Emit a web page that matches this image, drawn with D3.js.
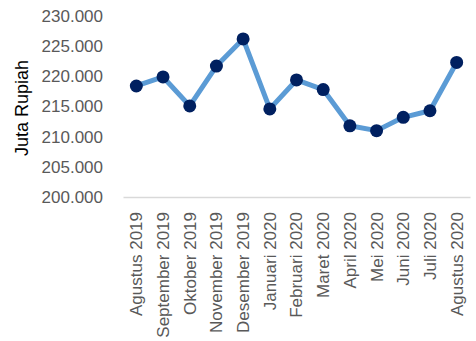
<!DOCTYPE html>
<html>
<head>
<meta charset="utf-8">
<script src="https://cdn.jsdelivr.net/npm/d3@7"></script>
<style>
  html, body { margin: 0; padding: 0; background: #fff; }
  svg { display: block; font-family: "Liberation Sans", Arial, sans-serif; }
</style>
</head>
<body>
<svg id="chart" width="476" height="341"></svg>
<script>
// Monthly values, in thousands of Juta Rupiah
const categories = ["Agustus 2019", "September 2019", "Oktober 2019", "November 2019", "Desember 2019",
  "Januari 2020", "Februari 2020", "Maret 2020", "April 2020", "Mei 2020", "Juni 2020", "Juli 2020", "Agustus 2020"];
const values = [218.4, 219.9, 215.1, 221.7, 226.2, 214.6, 219.4, 217.8, 211.8, 211.0, 213.2, 214.3, 222.3];
const yTicks = [200, 205, 210, 215, 220, 225, 230];
const yTitle = "Juta Rupiah";

const svg = d3.select("#chart");
const margin = { left: 123, right: 6, top: 16, bottom: 144 };
const W = 476, H = 341;

const x = d3.scaleBand().domain(categories).range([margin.left, W - margin.right]);
const y = d3.scaleLinear().domain([200, 230]).range([H - margin.bottom, margin.top]);

const fmt = v => d3.format(".3f")(v);
const textColor = "#595959";

// y axis labels (no line, no ticks)
const yAxis = svg.append("g")
  .attr("transform", `translate(${margin.left - 20},0)`)
  .call(d3.axisLeft(y).tickValues(yTicks).tickFormat(fmt).tickSize(0).tickPadding(0));
yAxis.select(".domain").remove();
yAxis.selectAll("text").attr("fill", textColor).style("font-size", "17px")
  .style("font-family", "'Liberation Sans', Arial, sans-serif");

// x axis with baseline and rotated labels
const xAxis = svg.append("g")
  .attr("transform", `translate(0,${y(200)})`)
  .call(d3.axisBottom(x).tickSize(0).tickPadding(0));
xAxis.select(".domain").attr("stroke", "#D9D9D9").attr("stroke-width", 1.3);
xAxis.selectAll("text")
  .attr("fill", textColor).style("font-size", "17px")
  .style("font-family", "'Liberation Sans', Arial, sans-serif")
  .attr("transform", "rotate(-90)")
  .attr("text-anchor", "end")
  .attr("x", -15).attr("y", 0).attr("dy", "0.35em");

// y axis title
svg.append("text")
  .attr("transform", `translate(22,108) rotate(-90)`)
  .attr("text-anchor", "middle").attr("dy", "0.35em")
  .attr("fill", "#000").style("font-size", "18px")
  .text(yTitle);

const pts = categories.map((c, i) => [x(c) + x.bandwidth() / 2, y(values[i])]);

svg.append("path")
  .datum(pts)
  .attr("d", d3.line())
  .attr("fill", "none")
  .attr("stroke", "#5B9BD5")
  .attr("stroke-width", 5)
  .attr("stroke-linejoin", "round")
  .attr("stroke-linecap", "round");

svg.append("g").selectAll("circle")
  .data(pts)
  .join("circle")
  .attr("cx", d => d[0]).attr("cy", d => d[1])
  .attr("r", 6.5)
  .attr("fill", "#002060");
</script>
</body>
</html>
